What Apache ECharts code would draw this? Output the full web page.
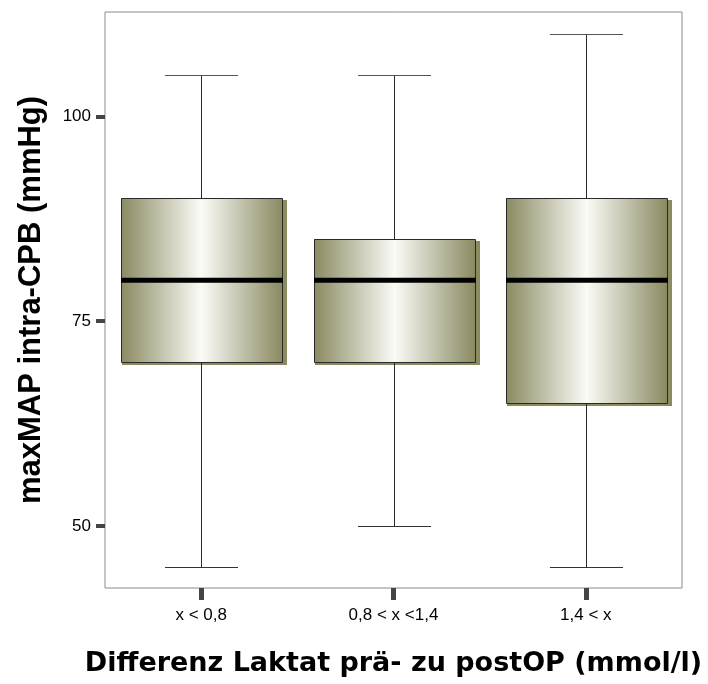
<!DOCTYPE html>
<html>
<head>
<meta charset="utf-8">
<script src="https://cdn.jsdelivr.net/npm/echarts@6/dist/echarts.min.js"></script>
<style>
  html, body { margin: 0; padding: 0; background: #ffffff; }
  #chart { width: 708px; height: 684px; }
</style>
</head>
<body>
<div id="chart"></div>
<script>
// Groups of the lactate difference (pre- to post-operative)
const categories = ['x < 0,8', '0,8 < x <1,4', '1,4 < x'];
// Box statistics of maxMAP intra-CPB (mmHg) per group
const whiskerLow  = [45, 50, 45];
const quartile1   = [70, 70, 65];
const medians     = [80, 80, 80];
const quartile3   = [90, 85, 90];
const whiskerHigh = [105, 105, 110];
// Y axis tick labels
const yTicks = [50, 75, 100];

const boxData = categories.map((c, i) => [i, whiskerLow[i], quartile1[i], medians[i], quartile3[i], whiskerHigh[i]]);

const chart = echarts.init(document.getElementById('chart'), null, { renderer: 'canvas' });

const fillGradient = new echarts.graphic.LinearGradient(0, 0, 1, 0, [
  { offset: 0, color: '#8a8a62' },
  { offset: 0.5, color: '#fbfbf7' },
  { offset: 1, color: '#8a8a62' }
]);

function px(v) { return Math.round(v) + 0.5; }

function renderBox(params, api) {
  const x = api.value(0);
  const lo = api.coord([x, api.value(1)]);
  const q1 = api.coord([x, api.value(2)]);
  const md = api.coord([x, api.value(3)]);
  const q3 = api.coord([x, api.value(4)]);
  const hi = api.coord([x, api.value(5)]);
  const band = api.size([1, 0])[0];
  const cx = px(lo[0]);
  const halfBox = band * 0.42;
  const halfCap = band * 0.19;
  const left = Math.round(cx - halfBox);
  const right = Math.round(cx + halfBox);
  const top = Math.round(q3[1]);
  const bottom = Math.round(q1[1]);
  const lineStyle = { stroke: '#2a2a2a', lineWidth: 1 };
  return {
    type: 'group',
    children: [
      { type: 'rect', shape: { x: left + 1, y: top + 2, width: right - left + 4, height: bottom - top + 1 },
        style: { fill: '#8b8b60' } },
      { type: 'rect', shape: { x: left, y: top, width: right - left, height: bottom - top },
        style: { fill: fillGradient } },
      { type: 'rect', shape: { x: left + 0.5, y: top + 0.5, width: right - left, height: bottom - top },
        style: { fill: null, stroke: '#2a2a2a', lineWidth: 1 } },
      { type: 'line', shape: { x1: left, y1: md[1], x2: right + 1, y2: md[1] },
        style: { stroke: '#000000', lineWidth: 5 } },
      { type: 'line', shape: { x1: cx, y1: q3[1], x2: cx, y2: px(hi[1]) }, style: lineStyle },
      { type: 'line', shape: { x1: cx, y1: q1[1], x2: cx, y2: px(lo[1]) }, style: lineStyle },
      { type: 'line', shape: { x1: cx - halfCap, y1: px(hi[1]), x2: cx + halfCap, y2: px(hi[1]) },
        style: { stroke: '#555555', lineWidth: 1 } },
      { type: 'line', shape: { x1: cx - halfCap, y1: px(lo[1]), x2: cx + halfCap, y2: px(lo[1]) },
        style: { stroke: '#333333', lineWidth: 1 } }
    ]
  };
}

chart.setOption({
  animation: false,
  backgroundColor: '#ffffff',
  grid: {
    left: 105, right: 26, top: 12, bottom: 96,
    show: true, borderColor: '#8a8a8a', borderWidth: 1, backgroundColor: 'transparent'
  },
  xAxis: {
    type: 'category',
    data: categories,
    boundaryGap: true,
    name: 'Differenz Laktat prä- zu postOP (mmol/l)',
    nameLocation: 'middle',
    nameGap: 62,
    nameTextStyle: { fontFamily: 'DejaVu Sans', fontWeight: 'bold', fontSize: 27, color: '#000000' },
    axisLine: { show: false },
    axisTick: { show: true, alignWithLabel: true, length: 12, lineStyle: { color: '#444444', width: 5 } },
    axisLabel: { fontFamily: 'Liberation Sans', fontSize: 17, color: '#000000', margin: 19 },
    splitLine: { show: false }
  },
  yAxis: {
    type: 'value',
    min: 42.43,
    max: 112.73,
    name: 'maxMAP intra-CPB (mmHg)',
    nameLocation: 'middle',
    nameGap: 58,
    nameTextStyle: { fontFamily: 'Liberation Sans', fontWeight: 'bold', fontSize: 31, color: '#000000' },
    axisLine: { show: false },
    axisTick: { show: true, length: 9, lineStyle: { color: '#444444', width: 4 }, customValues: yTicks },
    axisLabel: { fontFamily: 'Liberation Sans', fontSize: 17, color: '#000000', margin: 14, customValues: yTicks },
    splitLine: { show: false }
  },
  series: [{
    type: 'custom',
    renderItem: renderBox,
    encode: { x: 0, y: [1, 2, 3, 4, 5] },
    data: boxData,
    clip: false
  }]
});
</script>
</body>
</html>
